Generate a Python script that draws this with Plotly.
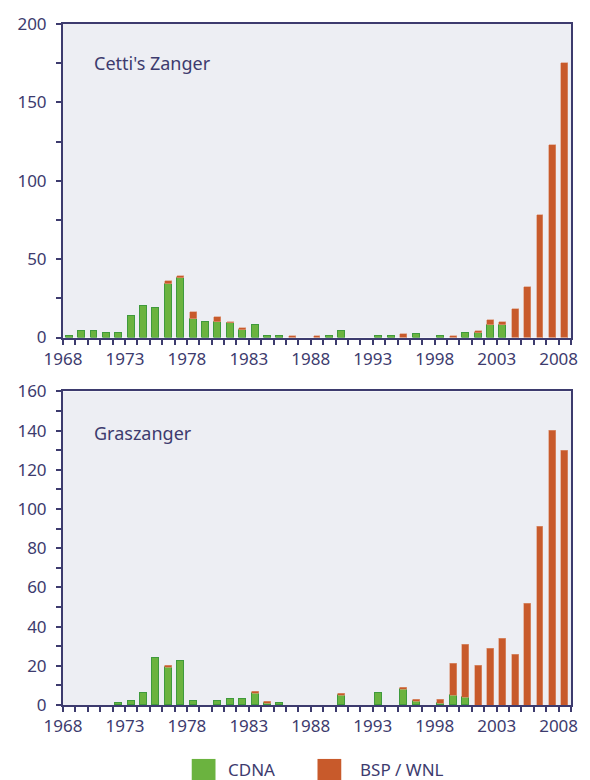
import plotly.graph_objects as go
from plotly.subplots import make_subplots

years = list(range(1968, 2009))

# Cetti's Zanger
cetti_cdna = [1, 4, 4, 3, 3, 14, 20, 19, 34, 38, 12, 10, 10, 9, 5, 8, 1, 1, 0, 0,
              0, 1, 4, 0, 0, 1, 1, 0, 2, 0, 1, 0, 3, 3, 8, 8, 0, 0, 0, 0, 0]
cetti_bsp = [0, 0, 0, 0, 0, 0, 0, 0, 2, 1, 4, 0, 3, 1, 1, 0, 0, 0, 1, 0,
             1, 0, 0, 0, 0, 0, 0, 2, 0, 0, 0, 1, 0, 1, 3, 2, 18, 32, 78, 123, 175]

# Graszanger
gras_cdna = [0, 0, 0, 0, 1, 2, 6, 24, 19, 22, 2, 0, 2, 3, 3, 6, 1, 1, 0, 0,
             0, 0, 5, 0, 0, 6, 0, 8, 2, 0, 1, 5, 4, 0, 0, 0, 0, 0, 0, 0, 0]
gras_bsp = [0, 0, 0, 0, 0, 0, 0, 0, 1, 0, 0, 0, 0, 0, 0, 1, 1, 0, 0, 0,
            0, 0, 1, 0, 0, 0, 0, 1, 1, 0, 2, 16, 27, 20, 29, 34, 26, 52, 91, 140, 130]

panel_titles = ["Cetti's Zanger", "Graszanger"]
legend_names = ["CDNA", "BSP / WNL"]
x_tick_years = list(range(1968, 2009, 5))

GREEN = "#6bb33f"
GREEN_LINE = "#3f9a3c"
RED = "#c85a2b"
RED_LINE = "#dc9a7c"
NAVY = "#3d3b6e"
FONT = "Noto Sans"
FS = 17


def nz(vals):
    return [v if v else None for v in vals]


xs = [y + 0.5 for y in years]

fig = make_subplots(rows=2, cols=1, vertical_spacing=0.0792)

for row, (cd, bs) in enumerate([(cetti_cdna, cetti_bsp), (gras_cdna, gras_bsp)], start=1):
    fig.add_trace(go.Bar(x=xs, y=nz(cd), marker=dict(color=GREEN, line=dict(color=GREEN_LINE, width=1)),
                         width=0.56, name=legend_names[0], showlegend=False), row=row, col=1)
    fig.add_trace(go.Bar(x=xs, y=nz(bs), marker=dict(color=RED, line=dict(color=RED_LINE, width=0.6)),
                         width=0.56, name=legend_names[1], showlegend=False), row=row, col=1)

axis_common = dict(showline=True, linecolor=NAVY, linewidth=2, mirror=True, showgrid=False,
                   zeroline=False, ticks="outside", ticklen=5, tickwidth=1.5, tickcolor=NAVY,
                   tickfont=dict(family=FONT, size=FS, color=NAVY))

for row in (1, 2):
    fig.update_xaxes(range=[1968, 2009], tickmode="array", tickvals=x_tick_years,
                     ticktext=[str(v) for v in x_tick_years],
                     minor=dict(dtick=1, tick0=1968, ticks="outside", ticklen=5, tickwidth=1.5, tickcolor=NAVY),
                     **axis_common, row=row, col=1)

fig.update_yaxes(range=[0, 200], dtick=50, tick0=0, ticklabelstandoff=6,
                 minor=dict(dtick=25, tick0=0, ticks="outside", ticklen=5, tickwidth=1.5, tickcolor=NAVY),
                 **axis_common, row=1, col=1)
fig.update_yaxes(range=[0, 160], dtick=20, tick0=0, ticklabelstandoff=6,
                 minor=dict(dtick=10, tick0=0, ticks="outside", ticklen=5, tickwidth=1.5, tickcolor=NAVY),
                 **axis_common, row=2, col=1)

fig.update_layout(
    width=590, height=780,
    margin=dict(l=63, r=14, t=23, b=75),
    barmode="stack",
    bargap=0,
    plot_bgcolor="#edeef3",
    paper_bgcolor="white",
    font=dict(family=FONT, size=FS, color=NAVY),
    showlegend=False,
)
fig.update_yaxes(domain=[0.5396, 1.0], row=1, col=1)
fig.update_yaxes(domain=[0.0, 0.4604], row=2, col=1)

fig.add_annotation(text=panel_titles[0], xref="x domain", yref="y domain", x=0.058, y=0.876,
                   xanchor="left", yanchor="middle", showarrow=False,
                   font=dict(family=FONT, size=18, color=NAVY))
fig.add_annotation(text=panel_titles[1], xref="x2 domain", yref="y2 domain", x=0.058, y=0.869,
                   xanchor="left", yanchor="middle", showarrow=False,
                   font=dict(family=FONT, size=18, color=NAVY))

# Legend drawn below the charts
leg_top, leg_bot = -0.0792, -0.115
leg_mid = -0.0953
fig.add_shape(type="rect", xref="paper", yref="paper", x0=(193 - 63) / 513, x1=(217 - 63) / 513,
              y0=leg_bot, y1=leg_top, fillcolor=GREEN, line=dict(width=0))
fig.add_shape(type="rect", xref="paper", yref="paper", x0=(320 - 63) / 513, x1=(344 - 63) / 513,
              y0=leg_bot, y1=leg_top, fillcolor=RED, line=dict(width=0))
fig.add_annotation(text=legend_names[0], xref="paper", yref="paper", x=(228 - 63) / 513,
                   y=leg_mid, xanchor="left", yanchor="middle", showarrow=False,
                   font=dict(family=FONT, size=FS, color=NAVY))
fig.add_annotation(text=legend_names[1], xref="paper", yref="paper", x=(361 - 63) / 513,
                   y=leg_mid, xanchor="left", yanchor="middle", showarrow=False,
                   font=dict(family=FONT, size=FS, color=NAVY))

fig.write_html("out.html", config={"displayModeBar": False},
               post_script="document.body.style.margin='0';document.body.style.overflow='hidden';")
